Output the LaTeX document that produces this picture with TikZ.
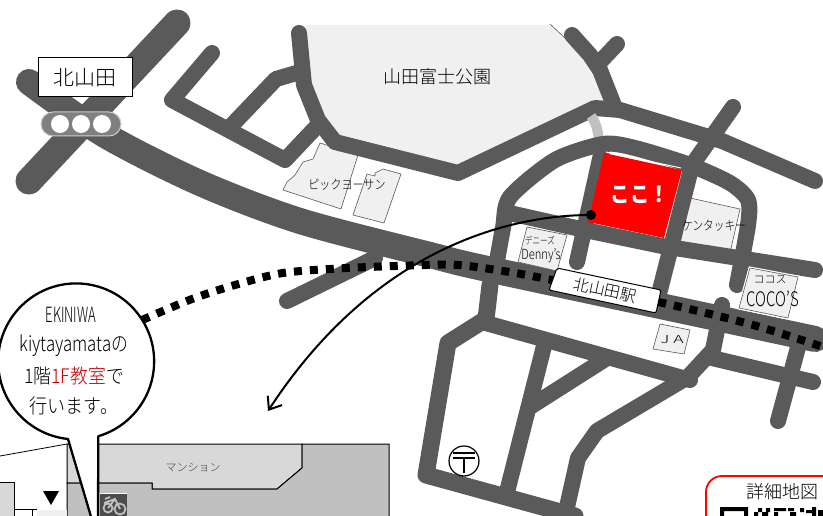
\documentclass[tikz,border=0pt]{standalone}
\usepackage{fontspec}
\setmainfont{Noto Sans CJK JP Light}
\newfontfamily\boldf{Noto Sans CJK JP}
\usetikzlibrary{arrows.meta}
\definecolor{road}{HTML}{5A5A5A}
\definecolor{pale}{HTML}{F0F0F0}
\definecolor{mans}{HTML}{D8D8D8}
\definecolor{bldg}{HTML}{C0C0C0}
\tikzset{
  roadline/.style={draw=road,line width=#1,line cap=round,line join=round},
  roadline/.default=16pt,
  shop/.style={draw=black!65,fill=pale,line width=.6pt},
  block/.style={draw=black,line width=1pt},
  lbl/.style={inner sep=0pt,text=black,transform shape},
}
\newcommand{\fs}[1]{\fontsize{#1}{#1}\selectfont}
\begin{document}
\begin{tikzpicture}[x=1pt,y=-1pt]
\useasboundingbox (0,0) rectangle (823,516);
\fill[white] (0,0) rectangle (823,516);
% park
\fill[pale] (307,25) -- (550,25) -- (570,42) -- (600,75) -- (610,104) -- (590,104) -- (458,170) -- (335,140) -- (315,115) -- (300,40) -- cycle;
\draw[black!65,line width=.6pt] (550,24) -- (566,39);
% shops below roads
\draw[shop] (320,143) -- (358,155) -- (341,209) -- (283,190) -- (287,182) -- (295,175) -- (303,162) -- (313,159) -- cycle;
\draw[shop] (383,169) -- (401,174) -- (384,223) -- (353,215) -- (367,174) -- (375,176) -- (375,173) -- cycle;
\draw[shop] (690,198) -- (740,209) -- (730,253) -- (680,243) -- cycle;
% main roads
\draw[roadline=27pt] (177,23) -- (29,181);
\draw[roadline=26pt] plot[smooth,tension=.5] coordinates {(29,82) (105,135) (200,183) (300,221) (430,255) (483,268) (665,307) (815,339)};
\draw[roadline] (287,301) -- (375,258);
% upper left
\draw[roadline] (212,53) -- (172,100) -- (285,160) -- (320,123);
\draw[roadline] (232,125) -- (276,79) -- (300,72);
% park road
\draw[roadline] (299,33) -- (304,85) -- (318,120) -- (335,142) -- (458,173) -- (595,108) -- (620,110) -- (722,141) -- (815,181);
\draw[roadline] (572,35) -- (590,55) -- (600,70) -- (615,108);
\draw[roadline] (600,62) -- (617,44);
\draw[bldg,line width=10pt] (591,116) .. controls (597,124) and (598,132) .. (599,142);
% block round red
\draw[roadline] plot[smooth,tension=.45] coordinates {(495,272) (503,228) (510,197) (555,160) (603,144) (635,148) (690,165) (730,183) (748,200) (748,225) (737,285)};
\draw[roadline] (505,212) -- (585,230) -- (662,246) -- (815,270);
\draw[roadline] (602,150) -- (577,262);
\draw[roadline] (733,107) -- (692,165) -- (660,290);
% lower block
\draw[roadline] (722,305) -- (713,350) -- (688,377) -- (597,431) -- (578,458) -- (565,516);
\draw[roadline=17pt] (490,285) -- (486,319) -- (448,343) -- (426,475) -- (575,516);
\draw[roadline] (482,322) -- (690,380);
\draw[roadline] (545,342) -- (507,492);
\draw[roadline] (530,407) -- (607,358);
\draw[roadline] (712,358) -- (813,382);
\draw[roadline] (800,340) -- (778,421);
% red building
\draw[white,line width=1pt] (606,152) -- (681,168);
\fill[red] (604,153) -- (682,170) -- (664,238) -- (588,222) -- cycle;
\node[lbl,text=white,font=\boldf\fs{22}\bfseries,xscale=.88] (koko) at (640,195) {ここ！};
% shops above roads
\draw[shop] (527,227) -- (567,235) -- (557,271) -- (518,262) -- cycle;
\draw[white,fill=white,line width=3pt] (750,268) -- (798,277) -- (788,318) -- (739,308) -- cycle;
\draw[shop] (750,268) -- (798,277) -- (788,318) -- (739,308) -- cycle;
\draw[shop] (660,324) -- (690,330) -- (684,354) -- (653,349) -- cycle;
% rail
\draw[black,line width=8pt,dash pattern=on 8pt off 8pt] plot[smooth,tension=.5] coordinates {(142,320) (192,299) (235,285) (283,273) (347,268) (427,265) (458,265) (490,269) (537,277) (663,303) (753,325) (823,347)};
% station
\draw[black,fill=white,line width=1pt,rounded corners=2pt] (557,268) -- (661,290) -- (656,313) -- (549,290) -- cycle;
\node[lbl,rotate=-12,font=\fs{16}] (stn) at (605,290) {北山田駅};
% labels
\node[lbl,font=\fs{18}] (park) at (437,77) {山田富士公園};
\node[lbl,font=\fs{13},xscale=.85] (pick) at (347,185) {ピックヨーサン};
\node[lbl,font=\fs{13},xscale=.82] (kfc) at (714,226) {ケンタッキー};
\node[lbl,font=\fs{10},xscale=.75] (den1) at (540,241) {デニーズ};
\node[lbl,font=\fs{14},xscale=.8] (den2) at (541,256) {Denny's};
\node[lbl,font=\fs{11}] (coco1) at (770,280) {ココス};
\node[lbl,font=\fs{20},xscale=.75] (coco2) at (773,299) {COCO'S};
\node[lbl,font=\fs{11},xscale=1.6] (ja) at (672,340) {J A};
% signal
\fill[white] (77,97) -- (83,103) -- (89,97) -- cycle;
\node[block,fill=white,minimum width=94pt,minimum height=39pt,inner sep=0pt,font=\fs{21}] (sta) at (85,77.5) {北山田};
\draw[fill=black!50,draw=black!20,line width=1pt,rounded corners=12pt] (41,112) rectangle (121,136);
\foreach \x in {60,81,102} \fill[white] (\x,124) circle (9);
% buildings
\draw[block,fill=mans] (67,444) -- (302,444) -- (302,468) -- (277,489) -- (152,489) -- (152,483) -- (67,483) -- cycle;
\draw[block,fill=bldg] (302,444) -- (389,444) -- (389,517) -- (67,517) -- (67,483) -- (152,483) -- (152,489) -- (277,489) -- (302,468) -- cycle;
\node[lbl,font=\fs{11},text=black!75] (mansion) at (193,468) {マンション};
\draw[black,line width=.8pt] (0,456) -- (67,444);
\draw[black,fill=mans,line width=1pt] (-2,482) -- (14,482) -- (14,517) -- (-2,517) -- cycle;
\draw[black,line width=1pt] (14,509) -- (37,509) (32,509) -- (32,517);
\fill[pale] (37,510) rectangle (67,516);
\fill[black] (43,491) -- (59,491) -- (51,505) -- cycle;
% bicycle
\fill[black!70] (100,493) rectangle (127,516);
\draw[white,line width=.8pt] (100,493) -- (127,493);
\draw[bldg,line width=1.8pt] (108,508) circle (4.5) (120,509) circle (5.5) (105,499) -- (110,497) (104,503) -- (115,499) -- (120,509) (115,499) -- (108,508);
% balloon
\draw[black,fill=white,line width=2.3pt,line join=round] (68,439) arc[start angle=96,end angle=433.5,radius=78] -- (98,520) -- (92,520) -- cycle;
\node[lbl,font=\fs{21},xscale=.62] (b1) at (71,315) {EKINIWA};
\node[lbl,font=\fs{21},xscale=.8] (b2) at (74,346) {kiytayamataの};
\node[lbl,font=\fs{20},xscale=.89] (b3) at (74,376) {1階{\color[HTML]{C00000}1F教室}で};
\node[lbl,font=\fs{20},xscale=.9] (b4) at (74,406) {行います。};
% arrow
\fill[black] (591,215) circle (5) coordinate (dot);
\coordinate (tip) at (268,411);
\draw[black,line width=2pt,-{Straight Barb[length=11pt,width=17pt]}] (dot) .. controls (500,215) and (370,255) .. (tip);
% post
\node[circle,draw=black,fill=white,line width=1.2pt,minimum size=30pt,inner sep=0pt] (post) at (464,461) {};
\draw[black,line width=2.2pt] (453,453) -- (475,453) (453,458) -- (475,458) (464,458) -- (464,473);
% detail map
\draw[red,fill=white,line width=1.8pt,rounded corners=16pt] (706,530) -- (706,476) -- (840,476) -- (840,530);
\node[lbl,font=\fs{18}] (map) at (782,492) {詳細地図};
\fill[black,even odd rule] (720,507) rectangle (748,517) (724,511) rectangle (744,517);
\fill[black] (754,512) rectangle (758,516) (758,508) rectangle (762,512) (762,512) rectangle (768,516) (766,508) rectangle (770,512) (774,508) rectangle (786,511) (774,512) rectangle (778,516) (788,508) rectangle (794,511) (790,512) rectangle (796,516) (800,508) rectangle (804,512) (806,510) rectangle (812,513) (812,507) rectangle (816,516) (818,510) rectangle (823,516);
\end{tikzpicture}
\end{document}
